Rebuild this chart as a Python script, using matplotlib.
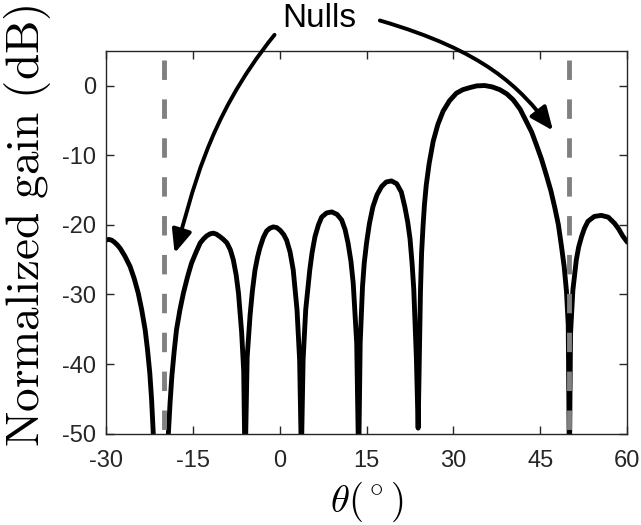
import matplotlib
matplotlib.use("Agg")
import matplotlib.pyplot as plt
from matplotlib.patches import FancyArrowPatch
from matplotlib.path import Path

plt.rcParams['font.family'] = ['Liberation Sans', 'DejaVu Sans']
plt.rcParams['mathtext.fontset'] = 'cm'
plt.rcParams['axes.unicode_minus'] = False

# angle (deg) and normalized gain (dB)
theta = [-30.0, -29.5, -29.0, -28.5, -28.0, -27.5, -26.7, -25.8, -25.1, -24.4,
         -23.8, -23.2, -22.8, -22.4, -22.1, -21.8, -20.0,
         -19.2, -18.9, -18.6, -18.2, -17.8, -17.2, -16.6, -15.9, -15.2, -14.4,
         -13.7, -13.1, -12.6, -12.0, -11.45, -10.9, -10.3, -9.7, -9.1, -8.5,
         -8.0, -7.5, -7.1, -6.55, -6.2, -6.05, -5.95, -5.85, -5.6, -5.1,
         -4.7, -4.25, -3.8, -3.4, -2.8, -2.25, -1.7, -1.1, -0.5, 0.1, 0.7,
         1.2, 1.8, 2.35, 3.0, 3.45, 3.68, 3.75, 3.82,
         4.05, 4.5, 5.2, 5.6, 6.1, 6.7, 7.25, 8.1, 9.0, 9.9, 10.7, 11.3,
         11.8, 12.3, 12.7, 13.3, 13.55, 13.62, 13.7,
         13.9, 14.3, 14.6, 15.0, 15.5, 16.1, 16.8, 17.6, 18.4, 19.3, 20.2,
         21.0, 21.6, 22.1, 22.5, 22.85, 23.15, 23.6, 23.9,
         24.1, 24.3, 24.5, 24.76, 25.0, 25.3, 25.8, 26.5, 27.3, 28.2, 29.3,
         30.5, 31.6, 32.8, 34.0, 35.4, 36.7, 38.0, 39.2, 40.3, 41.5, 42.6,
         43.5, 44.3, 45.2, 46.0, 46.8, 47.5, 48.1, 48.6, 49.1, 49.5, 49.8,
         49.95, 50.0, 50.05,
         50.2, 50.6, 51.2, 51.6, 52.1, 52.6, 53.2, 54.3, 55.5, 56.7, 57.8,
         58.5, 59.2, 60.0]
gain = [-22.2, -22.1, -22.2, -22.5, -22.9, -23.4, -24.5, -26.0, -27.7, -29.8,
        -32.2, -35.1, -37.9, -41.3, -45.0, -50.0, -80.0,
        -50.0, -45.5, -41.8, -38.2, -35.1, -32.2, -29.8, -27.5, -25.5, -23.9,
        -22.6, -22.0, -21.6, -21.3, -21.2, -21.35, -21.7, -22.1, -22.6, -23.6,
        -25.0, -27.2, -29.8, -35.5, -41.0, -50.0, -65.0, -50.0, -39.0, -33.0,
        -29.5, -26.5, -24.6, -23.3, -21.8, -20.9, -20.5, -20.3, -20.4, -20.8, -21.4,
        -22.2, -23.9, -26.5, -32.2, -39.4, -50.0, -65.0, -50.0,
        -39.4, -32.2, -26.5, -24.0, -21.7, -20.0, -18.9, -18.3, -18.15, -18.5, -19.3, -20.7,
        -22.6, -25.2, -28.4, -37.0, -50.0, -65.0, -50.0,
        -37.0, -28.9, -25.5, -22.6, -19.8, -17.4, -15.7, -14.5, -13.85, -13.7, -14.1,
        -15.3, -17.4, -19.6, -22.0, -25.5, -29.3, -39.2, -49.2,
        -39.2, -29.6, -24.0, -20.0, -17.0, -14.3, -11.2, -8.0, -5.6, -3.7, -2.2,
        -1.1, -0.6, -0.3, -0.05, 0.0, -0.2, -0.6, -1.2, -2.05, -3.4, -5.2,
        -6.7, -8.5, -10.6, -12.8, -15.1, -17.6, -20.0, -22.9, -26.0, -29.6, -34.4,
        -50.0, -70.0, -50.0,
        -35.6, -29.4, -25.0, -23.2, -21.7, -20.5, -19.5, -18.8, -18.65, -18.9, -19.8,
        -20.6, -21.6, -22.5]

null_angles = [-20, 50]
null_top = 3.6

xticks = [-30, -15, 0, 15, 30, 45, 60]
yticks = [-50, -40, -30, -20, -10, 0]

fig = plt.figure(figsize=(6.41, 5.25), dpi=100)
ax = fig.add_axes([0.165, 0.1739, 0.8137, 0.7295])

ax.plot(theta, gain, color='k', lw=3.5, solid_joinstyle='round',
        solid_capstyle='round', zorder=2)
for a in null_angles:
    ax.plot([a, a], [null_top, -50], color=(0.5, 0.5, 0.5), lw=3.5,
            dashes=(4, 4), zorder=3)

ax.set_xlim(-30, 60)
ax.set_ylim(-50, 5)
ax.set_xticks(xticks)
ax.set_yticks(yticks)
ax.tick_params(direction='in', length=6, width=1.0, colors='#262626',
               labelsize=17, top=True, right=True)
ax.tick_params(axis='x', pad=12)
ax.tick_params(axis='y', pad=7)
for s in ax.spines.values():
    s.set_color('#262626')
    s.set_linewidth(1.0)

ax.set_xlabel(r'$\theta(^\circ)$', fontsize=28, labelpad=5)
ax.set_ylabel(r'$\mathrm{Normalized\ gain\ (dB)}$', fontsize=34)
ax.yaxis.set_label_coords(-0.102, 0.542)

# annotation: text and two curved arrows (bezier control points in data units)
ax.text(6.9, 9.6, 'Nulls', fontsize=24, ha='center', va='center')
codes = [Path.MOVETO, Path.CURVE4, Path.CURVE4, Path.CURVE4]
left_arrow = [(-0.88, 7.28), (-12.83, -5.04), (-15.05, -15.85), (-18.12, -24.08)]
right_arrow = [(17.29, 9.34), (35.5, 4.91), (41.38, -0.22), (47.17, -6.47)]
for verts in (left_arrow, right_arrow):
    ax.add_patch(FancyArrowPatch(path=Path(verts, codes),
                                 arrowstyle='-|>,head_length=0.7,head_width=0.3',
                                 mutation_scale=20, lw=2.8, color='k',
                                 clip_on=False, zorder=4))

fig.savefig('out.png', dpi=100)
